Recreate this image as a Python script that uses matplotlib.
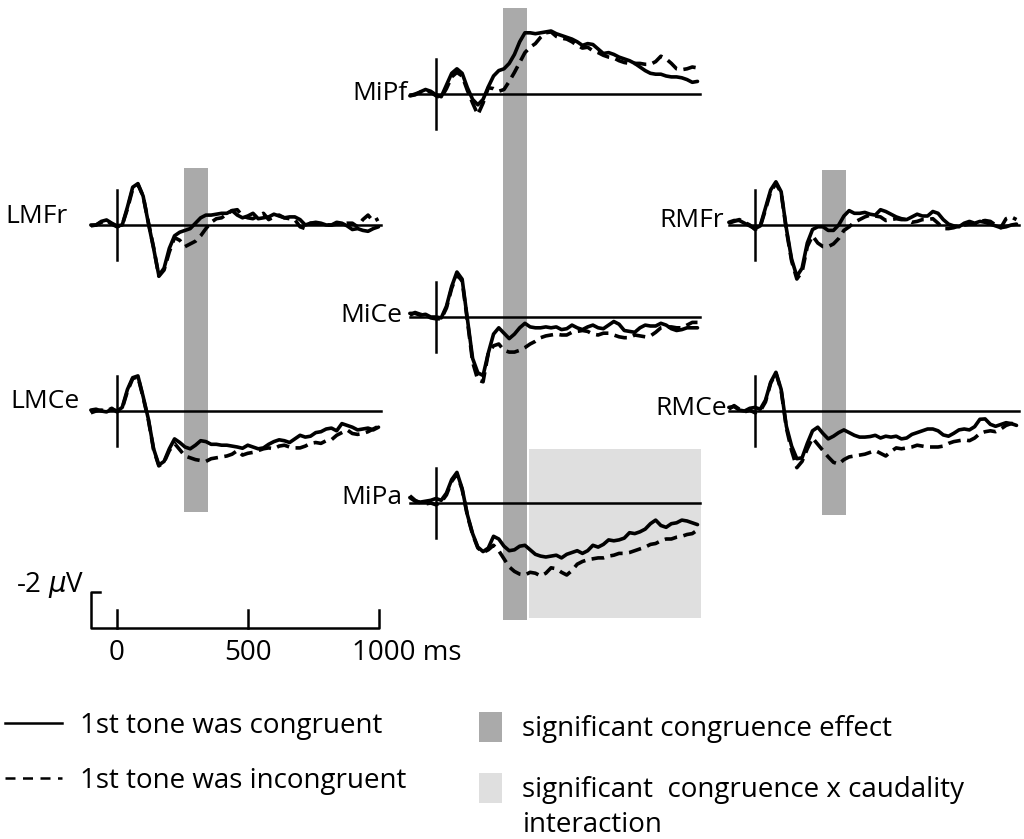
import numpy as np
import matplotlib.pyplot as plt
from matplotlib.lines import Line2D
from matplotlib.patches import Patch

plt.rcParams["font.family"] = ["Open Sans", "DejaVu Sans"]
plt.rcParams["font.size"] = 20

# sampling grid of the averaged waveforms (ms)
times = np.arange(-100, 1001, 20)

# grand averages in microvolts (negative plotted upward)
lmfr_con = [0.0, 0.0, -0.2, -0.28, -0.1, 0.05, 0.0, -1.0, -2.1, -2.3,
            -1.6, -0.1, 1.3, 2.8, 2.4, 1.3, 0.6, 0.4, 0.3, 0.2,
            -0.1, -0.4, -0.55, -0.55, -0.6, -0.65, -0.65, -0.8, -0.55, -0.4,
            -0.5, -0.65, -0.35, -0.4, -0.45, -0.6, -0.5, -0.4, -0.45, -0.45,
            -0.3, 0.0, -0.1, -0.15, -0.1, 0.0, 0.0, -0.15, -0.1, 0.05,
            0.25, 0.2, 0.3, 0.35, 0.2, 0.1]
lmfr_inc = [0.05, 0.0, -0.15, -0.25, -0.05, 0.1, 0.0, -0.9, -2.0, -2.25,
            -1.6, -0.15, 1.25, 2.85, 2.5, 1.5,
            0.7, 0.85, 1.2, 1.05, 0.9, 0.6, 0.2, -0.15, -0.35, -0.4,
            -0.6, -0.8, -0.85, -0.5, -0.4, -0.35, -0.5, -0.65, -0.3, -0.45,
            -0.55, -0.4, -0.35, -0.3, 0.1, 0.2, -0.1, -0.1, -0.05, 0.0,
            0.0, -0.05, -0.05, -0.1, -0.1, 0.1, -0.3, -0.55, -0.2, -0.35]

lmce_con = [-0.05, -0.1, 0.0, 0.05, -0.1, 0.0, -0.2, -1.2, -1.85, -1.95,
            -0.8, 0.45, 2.1, 3.0, 2.8, 2.1, 1.55, 1.75, 2.0, 2.1,
            1.9, 1.65, 1.7, 1.85, 1.85, 1.9, 1.9, 1.95, 2.0, 2.07,
            1.9, 2.0, 2.1, 2.05, 1.85, 1.7, 1.6, 1.65, 1.75, 1.55,
            1.35, 1.45, 1.4, 1.2, 1.15, 1.0, 0.95, 1.1, 0.7, 0.8,
            0.9, 1.05, 1.0, 0.95, 1.05, 0.9]
lmce_inc = [0.1, 0.0, -0.05, 0.0, -0.15, 0.05, -0.15, -1.1, -1.8, -1.9,
            -0.75, 0.5, 2.15, 3.05, 2.85, 2.2,
            1.8, 2.15, 2.5, 2.6, 2.7, 2.75, 2.8, 2.65, 2.6, 2.55,
            2.5, 2.4, 2.2, 2.45, 2.35, 2.3, 2.2, 2.1, 2.05, 2.1,
            1.95, 1.9, 2.0, 2.05, 2.05, 1.95, 1.8, 1.75, 1.8, 1.65,
            1.6, 1.35, 1.2, 1.05, 1.25, 1.3, 1.25, 1.15, 1.0, 0.85]

mipf_con = [0.1, 0.05, -0.12, -0.25, -0.15, 0.05, 0.15, -0.5, -1.15, -1.4,
            -1.15, -0.35, 0.3, 0.6, 0.3, -0.4, -1.0, -1.3, -1.4, -1.7,
            -2.2, -2.9, -3.4, -3.4, -3.35, -3.4, -3.45, -3.5, -3.35, -3.25,
            -3.15, -3.05, -2.9, -2.7, -2.8, -2.75, -2.5, -2.25, -2.3, -2.2,
            -2.05, -1.95, -1.85, -1.7, -1.5, -1.3, -1.15, -1.1, -1.1, -1.0,
            -0.95, -0.95, -0.9, -0.8, -0.65, -0.7]
mipf_inc = [0.1, 0.0, -0.1, -0.2, -0.1, 0.1, 0.2, -0.3, -0.95, -1.2,
            -1.0, -0.2, 0.5, 1.15, 0.5, -0.35,
            -0.3, -0.15, -0.25, -0.7, -1.2, -1.75, -2.3, -2.6, -2.8, -3.15,
            -3.4, -3.45, -3.2, -3.1, -3.05, -2.9, -2.7, -2.55, -2.6, -2.4,
            -2.3, -2.15, -2.05, -2.0, -1.85, -1.75, -1.7, -1.7, -1.7, -1.65,
            -1.65, -1.8, -2.1, -1.95, -1.7, -1.4, -1.35, -1.4, -1.5, -1.45]

mice_con = [-0.2, -0.2, -0.1, -0.15, 0.0, 0.0, 0.05, -0.6, -1.7, -2.5,
            -2.1, 0.1, 2.3, 3.1, 3.25, 2.0, 0.95, 0.6, 0.9, 1.2,
            0.95, 0.6, 0.35, 0.55, 0.6, 0.6, 0.55, 0.6, 0.55, 0.7,
            0.65, 0.45, 0.6, 0.7, 0.55, 0.45, 0.6, 0.65, 0.45, 0.25,
            0.4, 0.75, 0.8, 0.85, 0.6, 0.45, 0.5, 0.5, 0.35, 0.45,
            0.65, 0.75, 0.7, 0.6, 0.6, 0.6]
mice_inc = [-0.1, -0.25, -0.15, -0.1, 0.05, 0.1, 0.1, -0.5, -1.6, -2.35,
            -2.0, 0.2, 2.5, 3.5, 3.6, 2.0,
            1.6, 1.5, 1.85, 1.95, 1.95, 1.85, 1.7, 1.5, 1.35, 1.15,
            1.05, 1.0, 0.95, 1.0, 1.0, 0.85, 0.8, 0.75, 0.8, 0.95,
            1.0, 0.9, 0.9, 1.0, 1.1, 1.15, 1.15, 1.0, 1.05, 1.1,
            1.05, 0.85, 0.6, 0.55, 0.55, 0.6, 0.6, 0.45, 0.3, 0.3]

mipa_con = [-0.3, -0.1, -0.05, -0.1, -0.15, -0.25, -0.15, -0.55, -1.3, -1.7,
            -0.8, 0.65, 1.7, 2.45, 2.7, 2.5, 1.85, 2.0, 2.4, 2.65,
            2.6, 2.4, 2.35, 2.6, 2.85, 2.95, 3.0, 2.95, 2.9, 3.05,
            2.85, 2.75, 2.65, 2.8, 2.65, 2.35, 2.45, 2.3, 2.05, 2.1,
            2.05, 1.95, 1.65, 1.7, 1.6, 1.45, 1.15, 0.95, 1.25, 1.35,
            1.15, 1.1, 0.95, 1.0, 1.1, 1.2]
mipa_inc = [-0.4, -0.15, 0.0, 0.05, 0.0, 0.1, -0.05, -0.45, -1.2, -1.6,
            -0.75, 0.7, 1.75, 2.5, 2.75, 2.6,
            2.35, 2.65, 3.1, 3.55, 3.8, 3.95, 4.0, 3.85, 3.9, 4.05,
            3.9, 3.6, 3.65, 3.85, 4.0, 3.75, 3.4, 3.25, 3.15, 3.1,
            3.05, 3.05, 2.95, 2.9, 2.8, 2.8, 2.75, 2.65, 2.55, 2.45,
            2.3, 2.25, 2.1, 2.0, 2.0, 1.9, 1.85, 1.75, 1.7, 1.5]

rmfr_con = [-0.15, -0.25, -0.25, -0.1, 0.05, 0.2, 0.05, -0.95, -1.95, -2.4,
            -1.85, 0.2, 1.9, 2.85, 2.4, 1.0, 0.25, 0.1, 0.1, 0.3,
            0.3, 0.0, -0.5, -0.8, -0.65, -0.65, -0.7, -0.6, -0.55, -0.85,
            -0.75, -0.6, -0.45, -0.35, -0.3, -0.45, -0.6, -0.5, -0.5, -0.75,
            -0.65, -0.3, -0.05, 0.05, 0.1, -0.1, -0.2, -0.1, -0.2, -0.15,
            -0.05, 0.05, 0.15, 0.1, 0.0, -0.05]
rmfr_inc = [-0.1, -0.2, -0.3, -0.15, 0.0, 0.25, 0.1, -0.85, -1.85, -2.3,
            -1.8, 0.3, 2.0, 3.0, 2.6, 1.2,
            0.6, 1.0, 1.2, 1.2, 1.05, 0.75, 0.3, 0.1, -0.15, -0.3,
            -0.45, -0.55, -0.5, -0.45, -0.25, -0.3, -0.35, -0.3, -0.3, -0.15,
            -0.2, -0.3, -0.3, -0.35, -0.1, 0.2, 0.2, 0.15, 0.05, 0.0,
            -0.05, -0.05, -0.2, -0.25, -0.2, 0.0, 0.15, -0.35, -0.45, -0.3]

rmce_con = [-0.2, -0.25, -0.05, 0.0, -0.15, -0.2, -0.1, -0.6, -1.6, -2.15,
            -1.2, 0.85, 1.95, 2.65, 2.6, 1.8, 1.1, 0.9, 1.25, 1.55,
            1.4, 1.2, 1.05, 1.2, 1.35, 1.45, 1.45, 1.42, 1.35, 1.5,
            1.4, 1.45, 1.4, 1.55, 1.5, 1.3, 1.2, 1.1, 1.0, 1.0,
            1.1, 1.33, 1.4, 1.24, 1.05, 1.0, 1.05, 0.87, 0.46, 0.44,
            0.74, 0.85, 0.75, 0.65, 0.7, 0.8]
rmce_inc = [-0.1, -0.3, -0.1, 0.05, -0.05, 0.1, 0.0, -0.5, -1.55, -2.1,
            -1.15, 0.95, 2.2, 3.15, 2.8, 2.1,
            1.5, 1.85, 2.2, 2.55, 2.85, 2.95, 2.7, 2.55, 2.5, 2.45,
            2.4, 2.3, 2.2, 2.35, 2.5, 2.25, 2.05, 2.1, 2.05, 2.0,
            1.9, 1.95, 2.0, 2.0, 2.0, 1.95, 1.8, 1.7, 1.65, 1.6,
            1.65, 1.5, 1.25, 1.15, 1.1, 1.15, 1.0, 0.8, 0.7, 0.7]

# time windows of the statistical effects (ms)
congruence_window = (255, 348)
interaction_window = (357, 1012)

# page geometry in pixels
W, H = 1024, 839
PX_MS = 0.2615   # pixels per ms
PX_UV = 18.0     # pixels per microvolt
DARK = "#aaaaaa"
LIGHT = "#dfdfdf"
TRACE_LW = 2.6
AXIS_LW = 1.8

fig = plt.figure(figsize=(W / 100, H / 100), dpi=100)


def column_axes(zero_px):
    """Transparent full-page axes in ms / uV with t=0 at zero_px."""
    ax = fig.add_axes([0, 0, 1, 1])
    ax.set_xlim(-zero_px / PX_MS, (W - zero_px) / PX_MS)
    ax.set_ylim(H / PX_UV, 0)
    ax.axis("off")
    return ax


def shade(ax, window, top_px, bottom_px, color):
    ax.fill_between(window, top_px / PX_UV, bottom_px / PX_UV,
                    color=color, lw=0, zorder=0)


def panel(ax, name, base_px, con, inc, label_xy):
    y0 = base_px / PX_UV
    ax.plot([-100, 1010], [y0, y0], color="black", lw=AXIS_LW)
    ax.plot([0, 0], [y0 - 1.95, y0 + 1.95], color="black", lw=AXIS_LW)
    ax.plot(times, y0 + np.asarray(inc), color="black", lw=TRACE_LW,
            ls=(0, (3.5, 1.8)), dash_capstyle="butt")
    ax.plot(times, y0 + np.asarray(con), color="black", lw=TRACE_LW,
            solid_joinstyle="round", solid_capstyle="round")
    fig.text(label_xy[0] / W, 1 - label_xy[1] / H, name, fontsize=19,
             ha="right", va="baseline")


left = column_axes(117)
mid = column_axes(436)
right = column_axes(755)

shade(left, congruence_window, 168, 512, DARK)
shade(mid, congruence_window, 8, 620, DARK)
shade(mid, interaction_window, 449, 618, LIGHT)
shade(right, congruence_window, 170, 515, DARK)

panel(left, "LMFr", 225, lmfr_con, lmfr_inc, (68, 223))
panel(left, "LMCe", 411, lmce_con, lmce_inc, (80, 408))
panel(mid, "MiPf", 94, mipf_con, mipf_inc, (408, 100))
panel(mid, "MiCe", 317, mice_con, mice_inc, (402, 322))
panel(mid, "MiPa", 503, mipa_con, mipa_inc, (402, 504))
panel(right, "RMFr", 225, rmfr_con, rmfr_inc, (724, 227))
panel(right, "RMCe", 411, rmce_con, rmce_inc, (727, 415))

# calibration bar: -2 uV and 0 / 500 / 1000 ms
yb = 628 / PX_UV
left.plot([-65, -100, -100, 1000, 1000], [yb - 2, yb - 2, yb, yb, yb - 1],
          color="black", lw=AXIS_LW)
for tick in (0, 500):
    left.plot([tick, tick], [yb, yb - 1], color="black", lw=AXIS_LW)
left.text(0, 660 / PX_UV, "0", ha="center", va="baseline")
left.text(500, 660 / PX_UV, "500", ha="center", va="baseline")
left.text(899, 660 / PX_UV, "1000 ms", ha="left", va="baseline")
left.text(-125, 592 / PX_UV, r"-2 $\mu$V", ha="right", va="baseline")

# legends
lines = [Line2D([], [], color="black", lw=1.8),
         Line2D([], [], color="black", lw=1.8, ls=(0, (4, 3)))]
fig.legend(lines, ["1st tone was congruent", "1st tone was incongruent"],
           loc="upper left", bbox_to_anchor=(5 / W, 1 - 712 / H),
           frameon=False, borderpad=0, borderaxespad=0,
           handlelength=2.05, handletextpad=0.65, labelspacing=0.97)

boxes = [Patch(facecolor=DARK, edgecolor="none"),
         Patch(facecolor=LIGHT, edgecolor="none")]
fig.legend(boxes, ["significant congruence effect",
                   "significant  congruence x caudality"],
           loc="upper left", bbox_to_anchor=(479 / W, 1 - 712 / H),
           frameon=False, borderpad=0, borderaxespad=0,
           handlelength=0.83, handleheight=1.3, handletextpad=0.72,
           labelspacing=1.05)
fig.text(523 / W, 1 - 832 / H, "interaction", ha="left", va="baseline")

fig.savefig("out.png", dpi=100)
